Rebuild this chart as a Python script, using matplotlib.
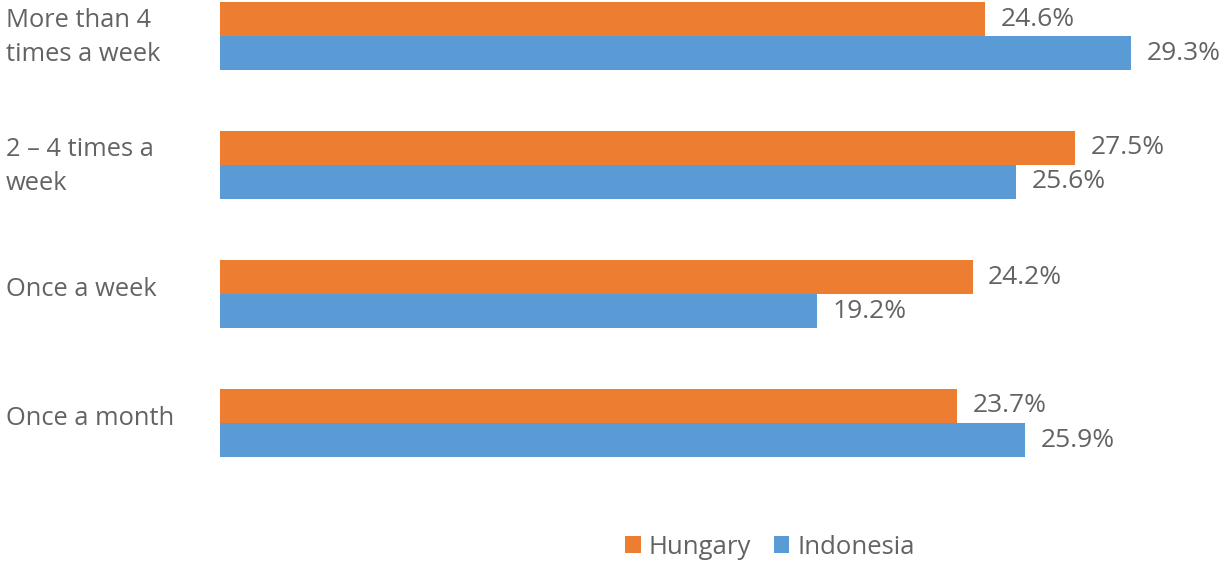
import matplotlib.pyplot as plt
import numpy as np

categories = ['More than 4\ntimes a week', '2 – 4 times a\nweek', 'Once a week', 'Once a month']
hungary = [24.6, 27.5, 24.2, 23.7]
indonesia = [29.3, 25.6, 19.2, 25.9]
series_names = ['Hungary', 'Indonesia']

ORANGE = '#ED7D31'
BLUE = '#5B9BD5'
TEXT = '#636363'

plt.rcParams['font.family'] = ['Open Sans', 'DejaVu Sans']

W, H = 1227, 563
fig = plt.figure(figsize=(W / 100, H / 100), dpi=100)
# axes spans pixel x 220..1227, y 0..490
ax = fig.add_axes([220 / W, 1 - 490 / H, 1 - 220 / W, 490 / H])

y = np.arange(len(categories))
h = 34 / 129
ax.barh(y - h / 2, hungary, height=h, color=ORANGE, label=series_names[0])
ax.barh(y + h / 2, indonesia, height=h, color=BLUE, label=series_names[1])

for i in range(len(categories)):
    ax.annotate(f'{hungary[i]:.1f}%', (hungary[i], y[i] - h / 2), xytext=(11, 0),
                textcoords='offset points', va='center', ha='left', fontsize=19, color=TEXT)
    ax.annotate(f'{indonesia[i]:.1f}%', (indonesia[i], y[i] + h / 2), xytext=(11, 0),
                textcoords='offset points', va='center', ha='left', fontsize=19, color=TEXT)

ax.set_xlim(0, 1007 / 31.1)
ax.set_ylim((490 - 36) / 129, -36 / 129)
for s in ax.spines.values():
    s.set_visible(False)
ax.set_xticks([])
ax.set_yticks([])

for i, c in enumerate(categories):
    dy = 0.012 if '\n' in c else -0.035
    ax.text(-214 / 31.1, y[i] + dy, c, ha='left', va='center', fontsize=18.4, color=TEXT,
            linespacing=1.5)

leg = fig.legend(loc='center', bbox_to_anchor=(770 / W, 1 - 547 / H), ncol=2, frameon=False,
                 fontsize=18.5, handlelength=0.6, handleheight=0.6, handletextpad=0.3,
                 columnspacing=0.9)
for t in leg.get_texts():
    t.set_color(TEXT)

fig.savefig('out.png', dpi=100)
